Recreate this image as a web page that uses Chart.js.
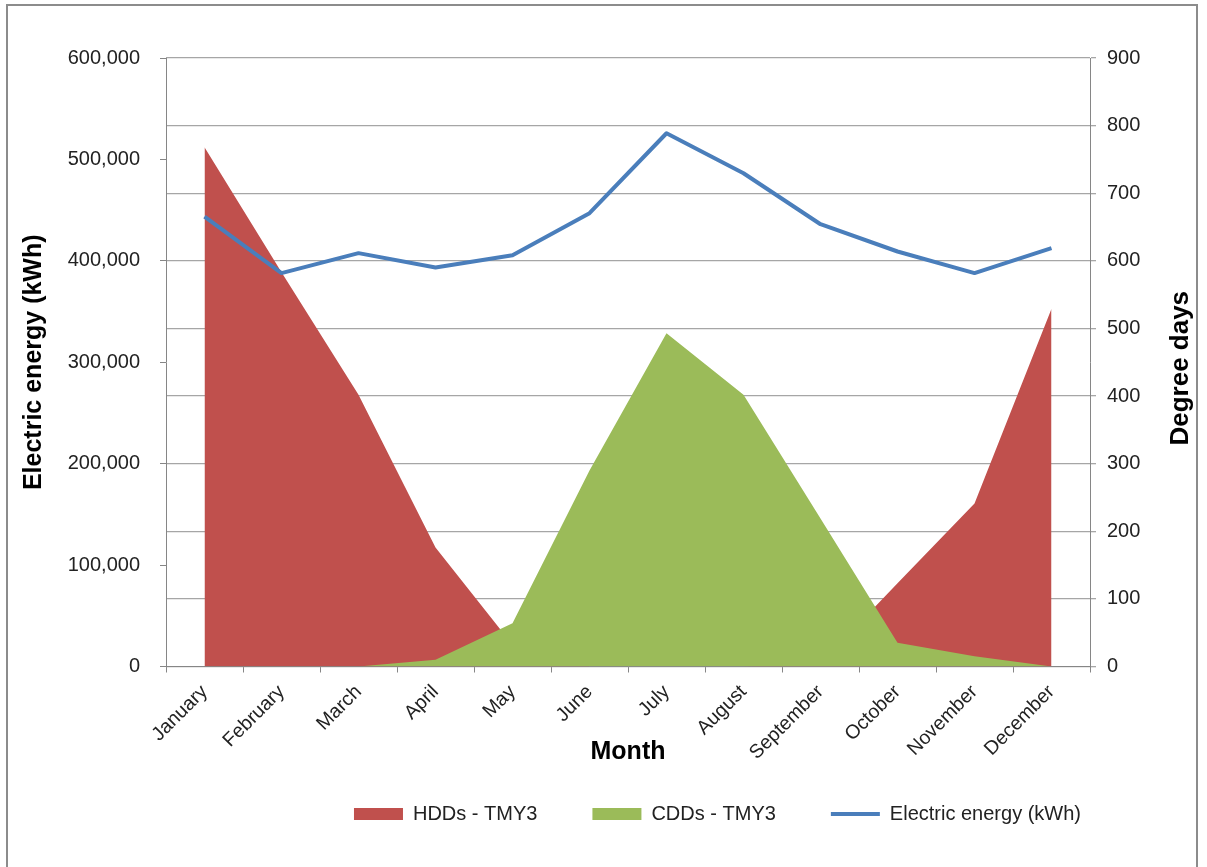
<!DOCTYPE html>
<html>
<head>
<meta charset="utf-8">
<script src="https://cdn.jsdelivr.net/npm/chart.js@4"></script>
<style>
  html, body { margin: 0; padding: 0; background: #ffffff; }
  #wrap { position: relative; width: 1207px; height: 867px; overflow: hidden; }
  #frame { position: absolute; left: 6px; top: 4px; width: 1192px; height: 900px; border: 2px solid #8c8c8c; box-sizing: border-box; pointer-events: none; }
  canvas { position: absolute; left: 0; top: 0; }
</style>
</head>
<body>
<div id="wrap">
  <canvas id="c" width="1207" height="867"></canvas>
  <div id="frame"></div>
</div>
<script>
const months = ['January','February','March','April','May','June','July','August','September','October','November','December'];
const hddValues = [768, 583, 402, 176, 32, 0, 0, 0, 4, 123, 241, 529];
const cddValues = [0, 0, 0, 10, 64, 290, 493, 402, 219, 35, 15, 0];
const electricValues = [443600, 387900, 407600, 393400, 405600, 447000, 525800, 486400, 436100, 409200, 387900, 412500];
const leftTicks = [0, 100000, 200000, 300000, 400000, 500000, 600000];
const rightTicks = [0, 100, 200, 300, 400, 500, 600, 700, 800, 900];
const seriesNames = ['HDDs - TMY3', 'CDDs - TMY3', 'Electric energy (kWh)'];
const axisTitles = { left: 'Electric energy (kWh)', right: 'Degree days', x: 'Month' };

const FONT = "'Liberation Sans', Arial, sans-serif";
Chart.defaults.font.family = FONT;
Chart.defaults.color = '#222222';

const RED = '#C0504D', GREEN = '#9BBB59', BLUE = '#4A7EBB';
const AXIS = '#868686', GRID = '#a6a6a6';

const rightTitlePlugin = {
  id: 'rightTitle',
  afterLayout(chart) {
    // centre the legend row where the original has it
    const lg = chart.legend;
    if (lg) { lg.left += 114; lg.right += 114; }
  },
  afterDraw(chart) {
    const ctx = chart.ctx;
    const ca = chart.chartArea;
    ctx.save();
    ctx.translate(1181, (ca.top + ca.bottom) / 2 + 6);
    ctx.rotate(-Math.PI / 2);
    ctx.font = 'bold 26px ' + FONT;
    ctx.fillStyle = '#000000';
    ctx.textAlign = 'center';
    ctx.textBaseline = 'middle';
    ctx.fillText(axisTitles.right, 0, 0);
    ctx.restore();
  }
};

new Chart(document.getElementById('c'), {
  type: 'line',
  data: {
    labels: months,
    datasets: [
      { label: seriesNames[0], data: hddValues, yAxisID: 'y1', order: 3,
        backgroundColor: RED, borderColor: RED, borderWidth: 0, fill: 'origin',
        pointRadius: 0, tension: 0 },
      { label: seriesNames[1], data: cddValues, yAxisID: 'y1', order: 2,
        backgroundColor: GREEN, borderColor: GREEN, borderWidth: 0, fill: 'origin',
        pointRadius: 0, tension: 0 },
      { label: seriesNames[2], data: electricValues, yAxisID: 'y', order: 1,
        backgroundColor: BLUE, borderColor: BLUE, borderWidth: 4, fill: false,
        pointRadius: 0, tension: 0, borderJoinStyle: 'round' }
    ]
  },
  options: {
    responsive: false,
    devicePixelRatio: 1,
    animation: false,
    layout: { padding: { top: 58, left: 8, right: 8, bottom: 33 } },
    plugins: {
      tooltip: { enabled: false },
      legend: {
        position: 'bottom',
        labels: {
          usePointStyle: true,
          pointStyleWidth: 49,
          boxHeight: 12,
          padding: 55,
          color: '#222222',
          font: { size: 20 },
          generateLabels(chart) {
            return chart.data.datasets.map((ds, i) => ({
              text: ds.label,
              fillStyle: ds.backgroundColor,
              strokeStyle: ds.borderColor,
              lineWidth: i === 2 ? 4 : 0,
              pointStyle: i === 2 ? 'line' : 'rect',
              hidden: false,
              datasetIndex: i,
              fontColor: '#222222'
            }));
          }
        }
      }
    },
    scales: {
      x: {
        type: 'category',
        offset: true,
        grid: { display: true, drawOnChartArea: false, drawTicks: true, tickLength: 6, offset: true, color: AXIS },
        border: { display: true, color: AXIS, width: 1 },
        ticks: { minRotation: 45, maxRotation: 45, padding: 8, font: { size: 19.5 }, color: '#222222', autoSkip: false },
        title: { display: true, text: axisTitles.x, color: '#000000', font: { size: 25, weight: 'bold' }, padding: { top: 0, bottom: -18 } },
        afterFit(scale) {
          scale.height = 82.5;
          // let the rotated month labels run below the axis box, as in the original
          scale._computeLabelArea = function () { return undefined; };
        }
      },
      y: {
        position: 'left',
        min: 0, max: 600000,
        afterBuildTicks(scale) { scale.ticks = leftTicks.map(v => ({ value: v })); },
        grid: { display: true, drawOnChartArea: false, drawTicks: true, tickLength: 6, color: AXIS },
        border: { display: true, color: AXIS, width: 1 },
        ticks: { padding: 20, font: { size: 20 }, color: '#222222',
          callback: v => v.toLocaleString('en-US') },
        title: { display: true, text: axisTitles.left, color: '#000000', font: { size: 25, weight: 'bold' }, padding: { top: 11, bottom: 0 } },
        afterFit(scale) { scale.width = 158; }
      },
      y1: {
        position: 'right',
        min: 0, max: 900,
        afterBuildTicks(scale) { scale.ticks = rightTicks.map(v => ({ value: v })); },
        grid: { display: true, drawOnChartArea: true, drawTicks: true, tickLength: 6, color: GRID, lineWidth: 1.3 },
        border: { display: true, color: AXIS, width: 1 },
        ticks: { padding: 11, font: { size: 20 }, color: '#222222' },
        afterFit(scale) { scale.width = 109; }
      }
    }
  },
  plugins: [rightTitlePlugin]
});
</script>
</body>
</html>
